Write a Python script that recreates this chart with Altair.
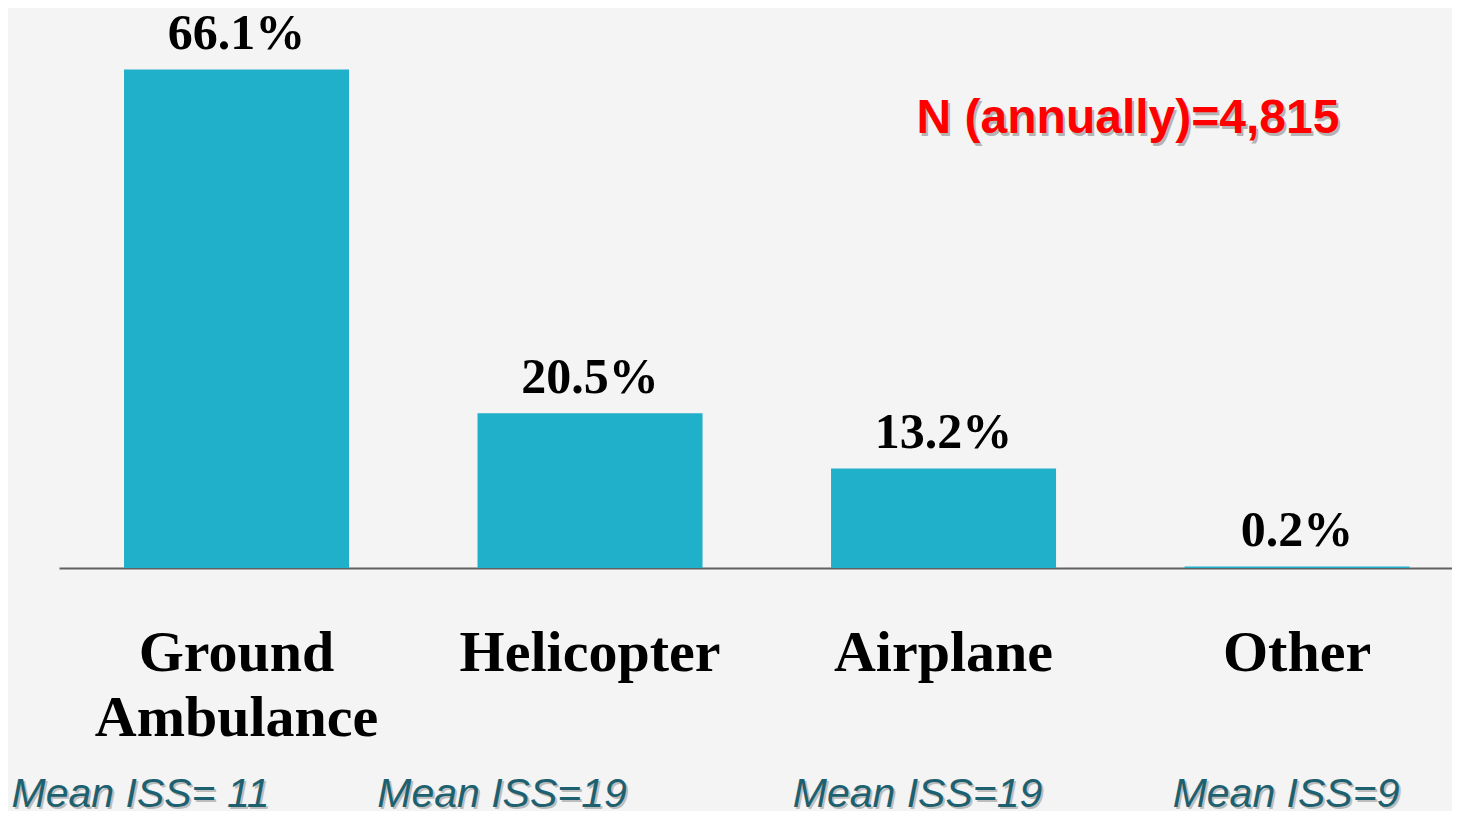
import altair as alt
import pandas as pd

categories = ["Ground Ambulance", "Helicopter", "Airplane", "Other"]
percents = [66.1, 20.5, 13.2, 0.2]
pct_labels = ["66.1%", "20.5%", "13.2%", "0.2%"]
iss_labels = ["Mean ISS= 11", "Mean ISS=19", "Mean ISS=19", "Mean ISS=9"]
note_text = ["N (annually)=4,815"]

df = pd.DataFrame({"cat": categories, "pct": percents, "lab": pct_labels, "iss": iss_labels})

xscale = alt.Scale(domain=categories, paddingInner=0.3635, paddingOuter=0.152, align=0.605)
xaxis = alt.Axis(title=None, ticks=False, labelAngle=0, labelFont="Liberation Serif",
                 labelFontWeight="bold", labelFontSize=58, labelColor="black",
                 labelPadding=56, labelExpr="split(datum.label, ' ')", labelLineHeight=65,
                 domainColor="#606060", domainWidth=2, labelLimit=0)
base = alt.Chart(df).encode(x=alt.X("cat:N", sort=categories, scale=xscale, axis=xaxis))
yenc = alt.Y("pct:Q", scale=alt.Scale(domain=[0, 70], nice=False), axis=None)

bars = base.mark_bar(color="#21B0C9").encode(y=yenc)
vals = base.mark_text(font="Liberation Serif", fontWeight="bold", fontSize=50,
                      baseline="alphabetic", dy=-20, color="black").encode(y=yenc, text="lab:N")

iss_dx = [-96, -88, -26, -11]
iss_layers = []
for c, d in zip(categories, iss_dx):
    sub = base.transform_filter(alt.datum.cat == c)
    iss_layers.append(sub.mark_text(font="Liberation Sans", fontStyle="italic", fontSize=41,
                                    baseline="alphabetic", dx=d + 2, dy=2, color="#9a9a9a",
                                    opacity=0.6).encode(y=alt.value(767), text="iss:N"))
    iss_layers.append(sub.mark_text(font="Liberation Sans", fontStyle="italic", fontSize=41,
                                    baseline="alphabetic", dx=d, color="#1d6170").encode(
        y=alt.value(767), text="iss:N"))

ndf = pd.DataFrame({"note": note_text})
n_shadow = alt.Chart(ndf).mark_text(font="Liberation Sans", fontWeight="bold", fontSize=48,
                                    baseline="alphabetic", color="#8a8a8a", opacity=0.6,
                                    dx=2, dy=3).encode(x=alt.value(1069), y=alt.value(93), text="note:N")
n_text = alt.Chart(ndf).mark_text(font="Liberation Sans", fontWeight="bold", fontSize=48,
                                  baseline="alphabetic", color="#ff0000").encode(
    x=alt.value(1069), y=alt.value(93), text="note:N")

chart = alt.layer(bars, vals, *iss_layers, n_shadow, n_text).properties(
    width=1393, height=528,
    autosize=alt.AutoSizeParams(type="none"),
    padding={"left": 51, "top": 32, "right": 0, "bottom": 243},
    background="#f4f4f4",
).configure_view(stroke=None)

chart.save("out.html", embed_options={"renderer": "svg", "actions": False})
